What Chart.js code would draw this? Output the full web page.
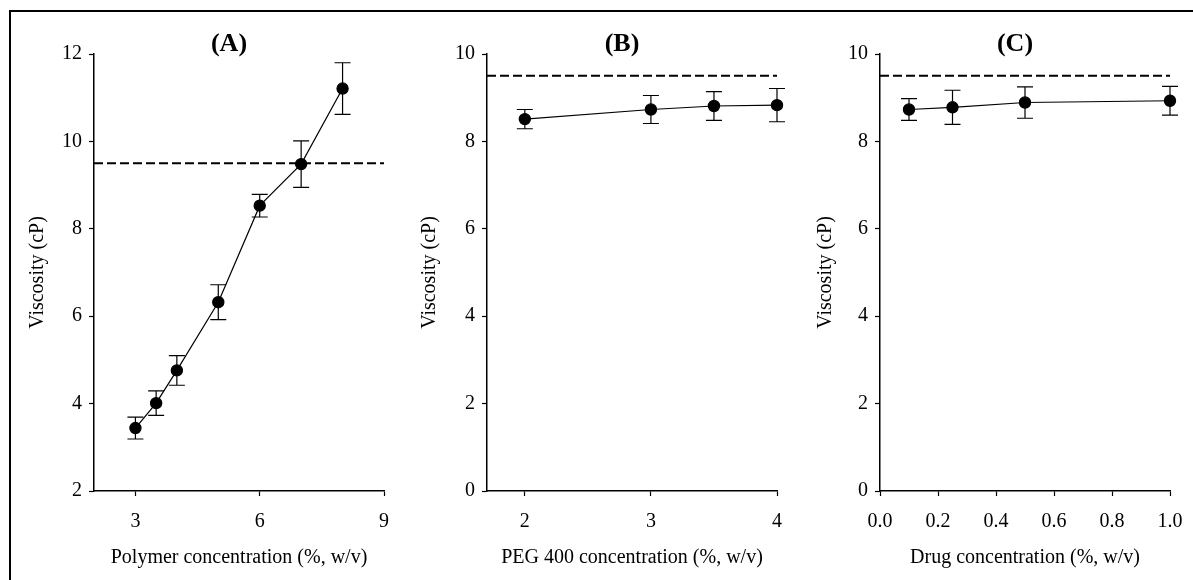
<!DOCTYPE html>
<html>
<head>
<meta charset="utf-8">
<script src="https://cdn.jsdelivr.net/npm/chart.js@4.4.1/dist/chart.umd.min.js"></script>
<style>
html, body { margin: 0; padding: 0; background: #fff; }
#frame { position: absolute; left: 9px; top: 10px; width: 1184px; height: 570px; border-left: 2px solid #000; border-top: 2px solid #000; }
canvas { position: absolute; top: 12px; }
</style>
</head>
<body>
<div id="frame"></div>
<canvas id="chartA" width="383" height="568" style="left:12px"></canvas>
<canvas id="chartB" width="390" height="568" style="left:400px"></canvas>
<canvas id="chartC" width="403" height="568" style="left:790px"></canvas>
<script>
// (A) polymer concentration
const polymerConc = [3, 3.5, 4, 5, 6, 7, 8];
const polymerVisc = [3.44, 4.01, 4.76, 6.32, 8.53, 9.48, 11.21];
const polymerErr = [0.25, 0.28, 0.34, 0.40, 0.26, 0.53, 0.59];
const polymerXTicks = [3, 6, 9];
const polymerYTicks = [2, 4, 6, 8, 10, 12];

// (B) PEG 400 concentration
const pegConc = [2, 3, 3.5, 4];
const pegVisc = [8.51, 8.73, 8.81, 8.83];
const pegErr = [0.22, 0.32, 0.33, 0.38];
const pegXTicks = [2, 3, 4];

// (C) drug concentration
const drugConc = [0.1, 0.25, 0.5, 1.0];
const drugVisc = [8.73, 8.78, 8.89, 8.93];
const drugErr = [0.25, 0.39, 0.36, 0.33];
const drugXTicks = [0, 0.2, 0.4, 0.6, 0.8, 1.0];

const zeroToTenTicks = [0, 2, 4, 6, 8, 10];
const viscosityLimit = 9.5; // dashed line

Chart.defaults.font.family = "'Liberation Serif', 'Times New Roman', serif";
Chart.defaults.font.size = 20;
Chart.defaults.color = '#000';

// error bars drawn under the points
const errorBars = {
    id: 'errorBars',
    beforeDatasetsDraw(chart) {
        const ctx = chart.ctx, xs = chart.scales.x, ys = chart.scales.y;
        chart.data.datasets.forEach(ds => {
            if (!ds.errors) return;
            ctx.save();
            ctx.strokeStyle = '#000';
            ctx.lineWidth = 1.2;
            ds.data.forEach((p, i) => {
                const px = xs.getPixelForValue(p.x);
                const top = ys.getPixelForValue(p.y + ds.errors[i]);
                const bot = ys.getPixelForValue(p.y - ds.errors[i]);
                ctx.beginPath();
                ctx.moveTo(px, top); ctx.lineTo(px, bot);
                ctx.moveTo(px - 8, top); ctx.lineTo(px + 8, top);
                ctx.moveTo(px - 8, bot); ctx.lineTo(px + 8, bot);
                ctx.stroke();
            });
            ctx.restore();
        });
    }
};

// bold panel label, e.g. (A)
const panelTitle = {
    id: 'panelTitle',
    afterDraw(chart, args, opts) {
        const {ctx, chartArea} = chart;
        ctx.save();
        ctx.font = "bold 26px 'Liberation Serif', 'Times New Roman', serif";
        ctx.fillStyle = '#000';
        ctx.textAlign = 'center';
        ctx.textBaseline = 'middle';
        ctx.fillText(opts.text, (chartArea.left + chartArea.right) / 2 - 10, opts.y);
        ctx.restore();
    }
};

function buildChart(id, p) {
    return new Chart(document.getElementById(id), {
        type: 'scatter',
        data: {
            datasets: [{
                data: p.x.map((x, i) => ({x: x, y: p.y[i]})),
                errors: p.err,
                showLine: true,
                clip: false,
                borderColor: '#000',
                borderWidth: 1.2,
                pointRadius: 5.6,
                pointBackgroundColor: '#000',
                pointBorderColor: '#000'
            }, {
                data: [{x: p.xMin, y: viscosityLimit}, {x: p.xMax, y: viscosityLimit}],
                showLine: true,
                clip: false,
                borderColor: '#000',
                borderWidth: 2,
                borderDash: [9, 4],
                pointRadius: 0
            }]
        },
        options: {
            responsive: false,
            animation: false,
            events: [],
            layout: { padding: { top: 42, right: p.padRight, left: 0, bottom: 0 } },
            plugins: {
                legend: { display: false },
                tooltip: { enabled: false },
                panelTitle: { text: p.title, y: 32 }
            },
            scales: {
                x: {
                    type: 'linear',
                    min: p.xMin,
                    max: p.xMax,
                    afterBuildTicks: s => { s.ticks = p.xTicks.map(v => ({value: v})); },
                    afterFit: s => { s.height = 89; s.paddingLeft = 0; s.paddingRight = 0; },
                    ticks: { padding: 14, maxRotation: 0, autoSkip: false, callback: p.xFmt },
                    grid: { drawOnChartArea: false, tickLength: 5, tickWidth: 1.2, color: '#000' },
                    border: { color: '#000', width: 1.5 },
                    title: { display: true, text: p.xLabel, padding: { top: 0, bottom: 10 } }
                },
                y: {
                    type: 'linear',
                    min: p.yTicks[0],
                    max: p.yTicks[p.yTicks.length - 1],
                    afterBuildTicks: s => { s.ticks = p.yTicks.map(v => ({value: v})); },
                    afterFit: s => { s.width = p.yWidth; s.paddingTop = 0; s.paddingBottom = 0; },
                    ticks: { padding: 7 },
                    grid: { drawOnChartArea: false, tickLength: 5, tickWidth: 1.2, color: '#000' },
                    border: { color: '#000', width: 1.5 },
                    title: { display: true, text: 'Viscosity (cP)', padding: { top: p.yTitlePad, bottom: 0 } }
                }
            }
        },
        plugins: [errorBars, panelTitle]
    });
}

buildChart('chartA', {
    title: '(A)', x: polymerConc, y: polymerVisc, err: polymerErr,
    xMin: 2, xMax: 9, xTicks: polymerXTicks, yTicks: polymerYTicks,
    xLabel: 'Polymer concentration (%, w/v)',
    yWidth: 82, yTitlePad: 14, padRight: 11
});
buildChart('chartB', {
    title: '(B)', x: pegConc, y: pegVisc, err: pegErr,
    xMin: 1.7, xMax: 4, xTicks: pegXTicks, yTicks: zeroToTenTicks,
    xLabel: 'PEG 400 concentration (%, w/v)',
    yWidth: 87, yTitlePad: 18, padRight: 13
});
buildChart('chartC', {
    title: '(C)', x: drugConc, y: drugVisc, err: drugErr,
    xMin: 0, xMax: 1, xTicks: drugXTicks, yTicks: zeroToTenTicks,
    xLabel: 'Drug concentration (%, w/v)', xFmt: v => Number(v).toFixed(1),
    yWidth: 90, yTitlePad: 24, padRight: 23
});
</script>
</body>
</html>
